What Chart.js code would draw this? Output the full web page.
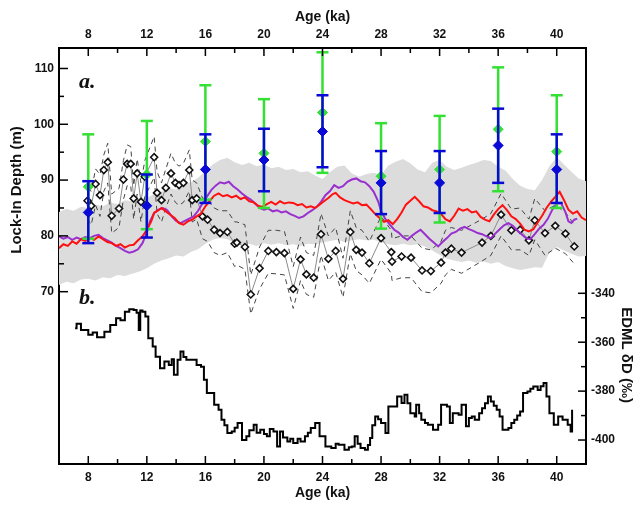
<!DOCTYPE html>
<html>
<head>
<meta charset="utf-8">
<script src="https://cdn.jsdelivr.net/npm/chart.js@4"></script>
<style>
  html, body { margin: 0; padding: 0; background: #fff; overflow: hidden; }
  canvas { display: block; }
</style>
</head>
<body>
<canvas id="lockInChart" width="635" height="506"></canvas>
<script>
// age ticks (ka) and depth / dD ticks
const ageMajor = [8, 12, 16, 20, 24, 28, 32, 36, 40];
const ageMinor = [10, 14, 18, 22, 26, 30, 34, 38];
const depthMajor = [70, 80, 90, 100, 110];
const depthMinor = [75, 85, 95, 105];
const dDMajor = [-400, -380, -360, -340];
const dDMinor = [-390, -370, -350];

// error bar estimates at each 4 ka
const barAges = [8, 12, 16, 20, 24, 28, 32, 36, 40];
const greenHi  = [98.2, 100.6, 107.0, 104.5, 112.9, 100.2, 101.5, 110.2, 105.2];
const greenMid = [88.8, 91.0, 96.9, 94.8, 102.1, 90.7, 91.9, 99.1, 95.1];
const greenLo  = [79.5, 81.2, 86.5, 85.0, 91.3, 81.3, 82.4, 88.0, 85.0];
const blueHi   = [89.8, 91.0, 98.2, 99.2, 105.2, 95.2, 95.2, 102.8, 98.2];
const blueMid  = [84.2, 85.4, 91.9, 93.6, 98.7, 89.5, 89.5, 96.2, 91.9];
const blueLo   = [78.7, 79.7, 85.9, 88.0, 92.3, 83.9, 84.1, 89.5, 85.9];

// grey envelope (every 0.5 ka from 6 to 42)
const bandAge = [6,6.5,7,7.5,8,8.5,9,9.5,10,10.5,11,11.5,12,12.5,13,13.5,14,14.5,15,15.5,16,16.5,17,17.5,18,18.5,19,19.5,20,20.5,21,21.5,22,22.5,23,23.5,24,24.5,25,25.5,26,26.5,27,27.5,28,28.5,29,29.5,30,30.5,31,31.5,32,32.5,33,33.5,34,34.5,35,35.5,36,36.5,37,37.5,38,38.5,39,39.5,40,40.5,41,41.5,42];
const bandUpper = [84.3,84.8,84.5,85.2,85.0,85.6,85.3,86.0,85.7,86.4,86.2,86.8,86.8,87.5,87.9,88.6,88.3,89.2,89.6,90.4,91.6,92.8,93.6,94.0,93.2,92.7,93.1,92.5,92.8,92.1,92.4,91.8,92.0,91.4,91.6,90.8,90.2,91.4,92.4,92.6,91.2,90.6,91.1,91.3,90.9,92.6,93.3,93.8,93.0,91.9,91.4,93.1,93.6,92.4,91.8,92.2,92.7,93.1,93.6,93.4,92.4,91.7,90.2,89.0,88.4,88.2,90.0,92.5,94.1,92.8,91.5,90.3,89.8];
const bandLower = [71.2,71.8,71.5,72.2,72.3,72.0,72.6,72.4,73.0,72.8,73.2,73.6,74.2,75.0,75.6,76.0,76.5,76.3,77.1,77.6,78.6,79.3,79.6,79.4,78.7,78.4,78.6,78.2,78.7,78.4,78.7,78.3,78.5,78.2,78.6,78.5,78.8,79.1,79.3,78.9,79.2,79.4,79.2,79.3,78.9,78.5,78.3,78.6,78.3,78.5,78.1,77.4,76.6,75.9,75.6,75.3,75.6,75.2,75.4,75.0,75.3,74.6,74.2,73.9,74.1,74.4,74.3,77.0,78.0,77.4,76.8,76.3,76.4];

// red and purple model curves [age, depth]
const redLine = [[6.0,77.8],[6.3,78.5],[6.6,78.2],[6.9,79.0],[7.2,78.6],[7.5,79.4],[7.8,79.1],[8.1,79.6],[8.4,79.3],[8.7,79.9],[9.0,79.4],[9.3,78.9],[9.6,78.7],[9.9,78.2],[10.2,78.5],[10.5,77.9],[10.8,78.3],[11.1,78.4],[11.4,79.2],[11.7,79.9],[12.0,81.1],[12.3,82.6],[12.5,84.1],[12.8,84.6],[13.0,85.0],[13.3,84.4],[13.6,83.8],[13.9,83.2],[14.2,82.3],[14.5,82.0],[14.8,82.6],[15.1,82.9],[15.4,83.5],[15.7,84.0],[16.0,85.3],[16.3,86.3],[16.6,87.2],[16.9,87.6],[17.2,87.1],[17.5,87.3],[17.8,86.9],[18.1,87.2],[18.4,86.6],[18.7,86.9],[19.0,86.2],[19.3,86.0],[19.6,85.4],[19.9,85.2],[20.2,85.7],[20.5,86.1],[20.8,85.6],[21.1,86.2],[21.4,85.8],[21.7,86.0],[22.0,85.9],[22.3,85.5],[22.6,85.7],[22.9,85.1],[23.2,85.3],[23.5,85.0],[23.8,85.6],[24.1,86.2],[24.4,86.8],[24.7,87.5],[24.9,87.7],[25.2,86.9],[25.5,86.4],[25.8,86.1],[26.1,85.8],[26.4,86.0],[26.7,85.5],[27.0,85.6],[27.3,84.8],[27.6,83.9],[27.9,83.2],[28.2,82.5],[28.5,82.8],[28.8,82.1],[29.1,83.0],[29.4,84.2],[29.7,85.6],[30.0,86.3],[30.3,87.0],[30.6,86.2],[30.9,85.3],[31.2,85.1],[31.5,84.6],[31.8,84.4],[32.1,83.9],[32.4,83.0],[32.7,82.6],[33.0,83.6],[33.3,84.9],[33.6,84.5],[33.9,84.8],[34.2,84.2],[34.5,84.4],[34.8,83.4],[35.1,82.9],[35.4,82.6],[35.7,83.8],[36.0,84.8],[36.3,85.5],[36.6,84.6],[36.9,83.5],[37.2,83.0],[37.5,82.2],[37.8,81.1],[38.1,80.8],[38.4,81.2],[38.7,82.4],[39.0,83.6],[39.3,85.0],[39.6,86.1],[39.9,87.0],[40.2,87.9],[40.5,86.4],[40.8,84.7],[41.1,84.0],[41.4,84.4],[41.7,83.3],[42.0,82.8]];
const purpleLine = [[6.0,79.9],[6.3,79.5],[6.6,79.8],[6.9,79.3],[7.2,79.7],[7.5,79.4],[7.8,79.8],[8.1,79.6],[8.4,80.0],[8.7,80.2],[9.0,79.6],[9.3,79.2],[9.6,78.8],[9.9,78.2],[10.2,77.8],[10.5,77.3],[10.8,77.0],[11.1,77.2],[11.4,77.6],[11.7,78.7],[12.0,80.6],[12.2,82.5],[12.5,84.1],[12.8,84.7],[13.1,85.0],[13.4,84.6],[13.7,83.5],[14.0,82.7],[14.3,82.3],[14.6,82.7],[14.9,83.1],[15.2,83.5],[15.5,84.5],[15.8,85.8],[16.1,87.0],[16.4,88.2],[16.7,89.0],[17.0,89.6],[17.3,89.4],[17.6,89.7],[17.9,88.9],[18.2,88.3],[18.5,87.6],[18.8,87.0],[19.1,86.5],[19.4,85.8],[19.7,85.0],[20.0,84.7],[20.3,84.9],[20.6,84.4],[20.9,84.6],[21.2,84.2],[21.5,84.4],[21.8,83.9],[22.1,83.6],[22.4,83.2],[22.7,83.5],[23.0,84.1],[23.3,84.6],[23.6,85.2],[23.9,86.1],[24.2,87.3],[24.5,88.0],[24.8,89.1],[25.1,88.6],[25.4,88.9],[25.7,89.7],[26.0,90.1],[26.3,90.3],[26.6,89.8],[26.9,89.6],[27.2,88.9],[27.5,87.9],[27.8,86.2],[28.0,84.5],[28.3,83.0],[28.6,82.0],[28.9,81.1],[29.2,80.6],[29.5,79.8],[29.8,79.3],[30.1,80.0],[30.4,80.6],[30.7,81.1],[31.0,80.3],[31.3,79.5],[31.6,78.8],[31.9,78.1],[32.2,78.9],[32.5,79.6],[32.8,80.4],[33.1,80.7],[33.4,81.3],[33.7,81.6],[34.0,81.2],[34.3,80.9],[34.6,80.5],[34.9,80.3],[35.2,79.9],[35.5,79.6],[35.8,80.4],[36.1,81.2],[36.4,81.9],[36.7,82.3],[37.0,81.8],[37.3,81.0],[37.6,80.3],[37.9,79.6],[38.2,79.4],[38.5,80.3],[38.8,81.3],[39.1,82.0],[39.4,83.1],[39.7,84.7],[40.0,85.8],[40.3,85.9],[40.6,84.2],[40.8,82.6],[41.0,82.3],[41.2,82.9],[41.4,83.1]];

// diamond record with upper/lower dashed bounds
const diamondAge = [7.95,8.2,8.5,8.8,9.06,9.33,9.6,10.1,10.4,10.66,10.9,11.1,11.34,11.6,11.86,12.5,12.7,13.0,13.3,13.65,13.95,14.2,14.5,14.9,15.1,15.4,15.8,16.15,16.6,17.0,17.5,18.0,18.15,18.7,19.1,19.7,20.3,20.85,21.4,22.0,22.5,22.9,23.4,23.9,24.4,24.9,25.4,25.9,26.3,26.7,27.2,28.0,28.7,28.75,29.4,30.05,30.8,31.4,32.1,32.4,32.8,33.5,34.9,35.5,36.2,36.9,37.5,38.1,38.5,39.2,39.9,40.6,41.2];
const diamondDepth = [86.3,85.4,89.3,87.3,91.8,93.2,83.6,84.9,90.1,92.9,92.9,86.7,91.2,86.1,90.6,94.1,87.7,86.4,88.6,91.2,89.5,89.1,89.5,91.8,86.4,86.7,83.5,82.9,81.1,80.5,80.7,78.6,78.8,78.0,69.5,74.2,77.3,77.1,76.9,70.5,75.8,73.1,72.5,80.3,75.9,77.3,72.3,80.7,77.5,77.0,75.1,79.6,77.1,75.4,76.3,76.1,73.8,73.7,75.2,77.0,77.7,77.0,78.8,80.0,83.8,81.0,81.1,79.2,82.8,80.5,81.8,80.4,78.1];
const diamondUpper = [88.5,88.0,92.0,91.0,94.5,96.6,87.5,88.5,93.5,96.3,96.0,89.0,93.8,89.5,93.5,97.8,91.5,89.5,92.0,94.8,93.0,92.5,93.0,95.4,90.0,89.5,86.8,86.5,85.0,84.5,84.5,82.5,82.5,82.0,73.0,78.0,81.0,81.0,80.8,74.5,79.8,77.0,76.5,84.0,80.0,81.5,76.0,84.5,81.5,81.0,79.0,83.5,81.0,79.5,80.0,80.0,77.8,77.5,79.0,81.0,81.5,81.0,83.0,84.0,87.6,84.8,85.0,83.0,86.7,84.5,85.5,84.2,82.0];
const diamondLower = [83.0,82.0,85.5,83.5,88.0,89.5,80.5,81.5,86.5,89.0,89.0,83.0,87.5,82.5,87.0,90.5,84.0,82.5,85.0,87.5,86.0,85.5,86.0,88.0,82.5,83.0,79.5,79.0,77.0,76.5,77.0,74.5,74.8,74.0,66.0,70.5,73.3,73.2,73.0,67.0,72.0,69.5,69.0,76.5,72.0,73.5,69.0,76.8,73.8,73.0,71.5,75.8,73.3,72.0,72.5,72.5,70.0,69.8,71.5,73.0,74.0,73.3,75.5,76.5,80.0,77.5,77.5,76.5,79.3,76.5,77.8,76.8,75.0];

// EDML dD record (per mil), step curve on right axis
const edml = [[7.1,-354.3],[7.2,-352.5],[7.5,-355],[8.0,-357],[8.3,-356],[8.6,-358],[9.1,-355.7],[9.5,-353],[9.9,-350.2],[10.2,-351],[10.5,-347.5],[10.8,-346.5],[11.1,-346.8],[11.3,-348],[11.45,-355],[11.55,-347],[11.7,-347.5],[11.9,-349.5],[12.1,-358.4],[12.4,-361.8],[12.6,-365.9],[12.9,-370.6],[13.2,-367.9],[13.5,-369.3],[13.7,-367],[13.85,-373.3],[14.1,-367.2],[14.3,-363.8],[14.5,-366],[14.7,-367.2],[15.1,-367.2],[15.4,-369.3],[15.7,-370],[15.9,-375.4],[16.1,-380.8],[16.3,-380.8],[16.6,-385.6],[16.9,-387.6],[17.1,-391.7],[17.3,-394],[17.5,-397.1],[17.8,-396.5],[18.0,-395],[18.2,-393],[18.5,-400],[18.8,-398.5],[19.0,-396],[19.3,-393.8],[19.5,-397],[19.75,-395.8],[20.0,-397.5],[20.2,-398.5],[20.4,-395.5],[20.65,-396.5],[20.9,-402.6],[21.1,-396.5],[21.3,-399],[21.6,-400.6],[21.8,-399.5],[22.0,-401.2],[22.3,-399.5],[22.5,-400.6],[22.8,-398.5],[23.0,-397],[23.2,-395.1],[23.5,-393],[23.8,-398.5],[24.2,-402.6],[24.6,-403.3],[24.9,-401.5],[25.1,-401.9],[25.5,-404],[25.8,-403],[26.0,-402.6],[26.2,-398.5],[26.4,-401.5],[26.6,-403.3],[26.9,-404],[27.1,-402],[27.25,-399.2],[27.4,-394],[27.6,-390.4],[27.8,-391.5],[28.0,-393],[28.3,-397.1],[28.5,-386.3],[28.8,-386.3],[29.1,-382.2],[29.4,-384.9],[29.6,-381.5],[29.8,-385],[30.0,-389],[30.3,-390.4],[30.4,-385.6],[30.6,-389],[30.75,-391.7],[31.0,-393],[31.2,-393.8],[31.55,-395.8],[31.9,-393.8],[32.1,-385.6],[32.5,-386.3],[32.7,-393],[32.9,-389],[33.3,-389.7],[33.5,-385.6],[33.8,-394.4],[34.0,-391],[34.2,-390.4],[34.4,-391.7],[34.7,-389],[34.9,-387],[35.1,-385],[35.3,-382.2],[35.5,-384.2],[35.7,-386],[35.9,-387.6],[36.1,-390.4],[36.3,-395.8],[36.7,-395.1],[36.9,-393],[37.1,-391.7],[37.3,-390],[37.5,-388.3],[37.7,-380.8],[38.0,-380.2],[38.2,-379],[38.4,-378.1],[38.7,-379.5],[38.9,-378],[39.1,-376.7],[39.3,-382.2],[39.5,-389],[39.8,-393.8],[40.1,-390.4],[40.4,-391.7],[40.75,-393.8],[40.95,-396.5],[41.05,-387.6]];

const FONT = "'Liberation Sans', Arial, sans-serif";
Chart.defaults.font.family = FONT;
Chart.defaults.color = '#111';

const GREEN = '#33e033';
const BLUE = '#0a0ad6';

// vertical bar with caps: lo, hi, then a gap
function errorBarPoints(lo, hi) {
  const pts = [];
  barAges.forEach((a, i) => {
    pts.push({x: a, y: lo[i]}, {x: a, y: hi[i]}, {x: a, y: null});
  });
  return pts;
}

const pairs = arr => arr.map(p => ({x: p[0], y: p[1]}));
const zipAges = (ages, vals) => ages.map((a, i) => ({x: a, y: vals[i]}));

// inward tick marks, side titles and panel letters
const decorations = {
  id: 'decorations',
  afterDraw(chart) {
    const {ctx, chartArea: a, scales} = chart;
    ctx.save();
    ctx.strokeStyle = '#000';
    ctx.lineWidth = 1.5;
    const vTick = (v, len) => {
      const px = scales.x.getPixelForValue(v);
      ctx.beginPath();
      ctx.moveTo(px, a.bottom); ctx.lineTo(px, a.bottom - len);
      ctx.moveTo(px, a.top); ctx.lineTo(px, a.top + len);
      ctx.stroke();
    };
    ageMajor.forEach(v => vTick(v, 8));
    ageMinor.forEach(v => vTick(v, 5));
    const lTick = (v, len) => {
      const py = scales.y.getPixelForValue(v);
      ctx.beginPath(); ctx.moveTo(a.left, py); ctx.lineTo(a.left + len, py); ctx.stroke();
    };
    depthMajor.forEach(v => lTick(v, 9));
    depthMinor.forEach(v => lTick(v, 5));
    const rTick = (v, len) => {
      const py = scales.y2.getPixelForValue(v);
      ctx.beginPath(); ctx.moveTo(a.right, py); ctx.lineTo(a.right - len, py); ctx.stroke();
    };
    dDMajor.forEach(v => rTick(v, 8));
    dDMinor.forEach(v => rTick(v, 5));

    ctx.fillStyle = '#111';
    ctx.font = 'bold 15px ' + FONT;
    ctx.textAlign = 'center';
    ctx.textBaseline = 'middle';
    ctx.save();
    ctx.translate(17, 190);
    ctx.rotate(-Math.PI / 2);
    ctx.fillText('Lock-In Depth (m)', 0, 0);
    ctx.restore();
    ctx.save();
    ctx.translate(626, 355);
    ctx.rotate(Math.PI / 2);
    ctx.fillText('EDML δD (‰)', 0, 0);
    ctx.restore();

    ctx.font = 'italic bold 22px "Liberation Serif", "Times New Roman", serif';
    ctx.textAlign = 'left';
    ctx.textBaseline = 'alphabetic';
    ctx.fillText('a.', 79, 88);
    ctx.fillText('b.', 79, 304);
    ctx.restore();
  }
};

const tickFont = {size: 12, weight: 'bold'};

const config = {
  type: 'scatter',
  data: {
    datasets: [
      // blue estimates
      {data: zipAges(barAges, blueMid), pointStyle: 'rectRot', pointRadius: 5, backgroundColor: BLUE, borderColor: BLUE, borderWidth: 1, order: 0},
      {type: 'line', data: errorBarPoints(blueLo, blueHi), borderColor: BLUE, borderWidth: 2.5, spanGaps: false,
        pointStyle: 'line', pointRadius: 6, pointBorderWidth: 2.5, pointBorderColor: BLUE, order: 1},
      // green estimates
      {data: zipAges(barAges, greenMid), pointStyle: 'rectRot', pointRadius: 5, backgroundColor: GREEN, borderColor: GREEN, borderWidth: 1, order: 2},
      {type: 'line', data: errorBarPoints(greenLo, greenHi), borderColor: GREEN, borderWidth: 2.5, spanGaps: false,
        pointStyle: 'line', pointRadius: 6, pointBorderWidth: 2.5, pointBorderColor: GREEN, order: 3},
      // model curves
      {type: 'line', data: pairs(redLine), borderColor: '#ff1010', borderWidth: 2, pointRadius: 0, tension: 0, order: 4},
      {type: 'line', data: pairs(purpleLine), borderColor: '#9a2fd0', borderWidth: 2, pointRadius: 0, tension: 0, order: 5},
      // diamond record
      {type: 'line', data: zipAges(diamondAge, diamondDepth), borderColor: '#8a8a8a', borderWidth: 1,
        pointStyle: 'rectRot', pointRadius: 3.5, pointBorderWidth: 1.6, pointBorderColor: '#111', pointBackgroundColor: '#fff', order: 6},
      {type: 'line', data: zipAges(diamondAge, diamondUpper), borderColor: '#444', borderWidth: 1, borderDash: [5, 4], pointRadius: 0, order: 7},
      {type: 'line', data: zipAges(diamondAge, diamondLower), borderColor: '#444', borderWidth: 1, borderDash: [5, 4], pointRadius: 0, order: 8},
      // EDML dD
      {type: 'line', data: pairs(edml), yAxisID: 'y2', stepped: true, borderColor: '#000', borderWidth: 2, pointRadius: 0, order: 5},
      // grey envelope
      {type: 'line', data: zipAges(bandAge, bandUpper), borderWidth: 0, borderColor: 'rgba(0,0,0,0)', pointRadius: 0,
        backgroundColor: '#dcdcdc', fill: '+1', order: 10},
      {type: 'line', data: zipAges(bandAge, bandLower), borderWidth: 0, borderColor: 'rgba(0,0,0,0)', pointRadius: 0, order: 11}
    ]
  },
  options: {
    responsive: false,
    animation: false,
    devicePixelRatio: 1,
    layout: {padding: 0},
    plugins: {legend: {display: false}, tooltip: {enabled: false}},
    scales: {
      x: {
        type: 'linear', position: 'bottom', min: 6, max: 42,
        afterBuildTicks: s => { s.ticks = ageMajor.map(v => ({value: v})); },
        afterFit: s => { s.height = 42; },
        grid: {display: false, drawTicks: false},
        border: {display: true, color: '#000', width: 2},
        ticks: {font: tickFont, padding: 6, maxRotation: 0, color: '#111'},
        title: {display: true, text: 'Age (ka)', font: {size: 14, weight: 'bold'}, padding: {top: 0, bottom: 4}, color: '#111'}
      },
      x2: {
        type: 'linear', position: 'top', min: 6, max: 42,
        afterBuildTicks: s => { s.ticks = ageMajor.map(v => ({value: v})); },
        afterFit: s => { s.height = 48; },
        grid: {display: false, drawTicks: false},
        border: {display: true, color: '#000', width: 2},
        ticks: {font: tickFont, padding: 6, maxRotation: 0, color: '#111'},
        title: {display: true, text: 'Age (ka)', font: {size: 14, weight: 'bold'}, padding: {top: 9, bottom: 0}, color: '#111'}
      },
      y: {
        type: 'linear', position: 'left', min: 39.12, max: 113.67,
        afterBuildTicks: s => { s.ticks = depthMajor.map(v => ({value: v})); },
        afterFit: s => { s.width = 59; },
        grid: {display: false, drawTicks: false},
        border: {display: true, color: '#000', width: 2},
        ticks: {font: tickFont, padding: 5, color: '#111'}
      },
      y2: {
        type: 'linear', position: 'right', min: -409.8, max: -239.7,
        afterBuildTicks: s => { s.ticks = dDMajor.map(v => ({value: v})); },
        afterFit: s => { s.width = 49; },
        grid: {display: false, drawTicks: false},
        border: {display: true, color: '#000', width: 2},
        ticks: {font: tickFont, padding: 5, color: '#111'}
      }
    }
  },
  plugins: [decorations]
};

new Chart(document.getElementById('lockInChart').getContext('2d'), config);
</script>
</body>
</html>
